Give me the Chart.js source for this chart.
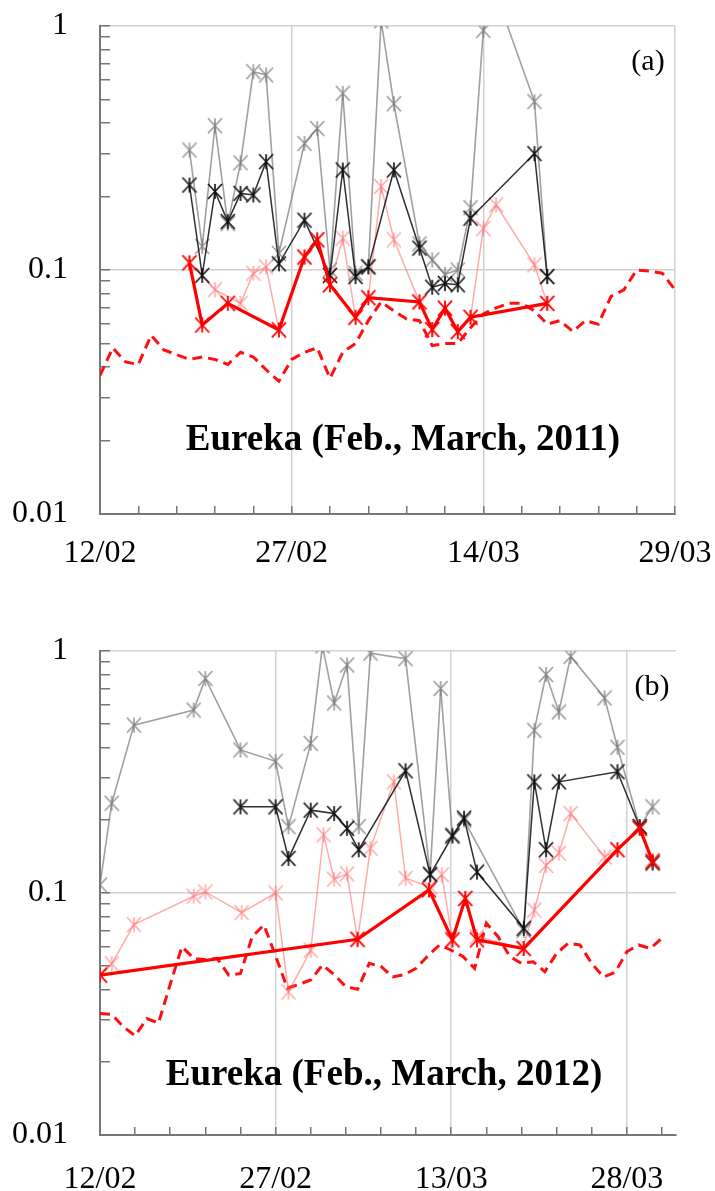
<!DOCTYPE html>
<html><head><meta charset="utf-8">
<script src="https://cdn.jsdelivr.net/npm/chart.js@4.4.0/dist/chart.umd.min.js"></script>
<style>
html,body{margin:0;padding:0;background:#fff;width:715px;height:1191px;overflow:hidden;}
#wrapA{position:absolute;left:0;top:0;width:715px;height:590px;}
#wrapB{position:absolute;left:0;top:590px;width:715px;height:601px;}
canvas{display:block;}
.title{position:absolute;font-family:"Liberation Serif",serif;font-weight:bold;font-size:37px;white-space:nowrap;transform:translate(-50%,-50%);color:#000;line-height:1;}
.panel{position:absolute;font-family:"Liberation Serif",serif;font-size:30px;transform:translate(-50%,-50%);color:#000;line-height:1;}
</style></head><body>
<div id="wrapA"><canvas id="chartA" width="715" height="590"></canvas></div>
<div id="wrapB"><canvas id="chartB" width="715" height="601"></canvas></div>
<div class="title" style="left:403px;top:437px">Eureka (Feb., March, 2011)</div>
<div class="panel" style="left:648px;top:60px">(a)</div>
<div class="title" style="left:384px;top:1072px">Eureka (Feb., March, 2012)</div>
<div class="panel" style="left:652px;top:685px">(b)</div>
<script>
// ---- tick labels ----
const xTickLabelsA = ['12/02','27/02','14/03','29/03'];
const xTickLabelsB = ['12/02','27/02','13/03','28/03'];
const majorDays = [0,15,30,45];
const xTickDays = [0,3,6,9,12,15,18,21,24,27,30,33,36,39,42,45,48];
const yTickLabels = ['0.01','0.1','1'];
const yLabelValues = [0.01,0.1,1];
const yTickValues = [0.01,0.02,0.03,0.04,0.05,0.06,0.07,0.08,0.09,0.1,0.2,0.3,0.4,0.5,0.6,0.7,0.8,0.9,1];

// ---- panel (a) 2011 ----
const grayDaysA = [7,8,9,10,11,12,13,14,16,17,18,19,20,21,22,23,25,26,27,28,29,30,31,34,35];
const grayValsA = [0.31,0.125,0.39,0.155,0.275,0.65,0.63,0.117,0.33,0.38,0.10,0.53,0.097,0.103,1.05,0.48,0.128,0.11,0.096,0.10,0.18,0.96,1.35,0.49,0.094];
const blackDaysA = [7,8,9,10,11,12,13,14,16,18,19,20,21,23,25,26,27,28,29,34,35];
const blackValsA = [0.223,0.095,0.21,0.158,0.206,0.203,0.278,0.106,0.16,0.095,0.257,0.094,0.103,0.257,0.123,0.085,0.088,0.087,0.163,0.30,0.094];
const pinkDaysA = [7,9,11,12,13,14,16,17,18,19,20,21,22,23,25,26,27,28,29,30,31,34,35];
const pinkValsA = [0.107,0.083,0.073,0.097,0.103,0.057,0.113,0.133,0.087,0.135,0.064,0.077,0.22,0.133,0.074,0.057,0.07,0.056,0.064,0.148,0.185,0.105,0.073];
const redDaysA = [7,8,10,14,16,17,18,20,21,25,26,27,28,29,35];
const redValsA = [0.107,0.0595,0.073,0.0568,0.113,0.133,0.087,0.064,0.077,0.074,0.057,0.0697,0.0559,0.064,0.073];
const dashDaysA = [0,1,2,3,4,5,6,7,8,9,10,11,12,13,14,15,16,17,18,19,20,21,22,23,24,25,26,27,28,29,30,31,32,33,34,35,36,37,38,39,40,41,42,43,44,45];
const dashValsA = [0.037,0.048,0.042,0.041,0.054,0.047,0.045,0.043,0.044,0.043,0.041,0.046,0.044,0.039,0.035,0.043,0.046,0.048,0.036,0.046,0.050,0.062,0.074,0.068,0.063,0.062,0.049,0.050,0.050,0.058,0.066,0.070,0.073,0.073,0.068,0.060,0.062,0.056,0.062,0.060,0.078,0.083,0.100,0.099,0.097,0.083];

// ---- panel (b) 2012 ----
const grayDaysB = [0,1,2.9,8,9,12,15,16.1,18,19,20,21.1,22.1,23.1,26.1,28.2,29.1,30.1,31.1,36.2,37.1,38.1,39.2,40.2,43.1,44.2,46.1,47.2];
const grayValsB = [0.108,0.235,0.494,0.57,0.77,0.39,0.35,0.188,0.415,1.05,0.61,0.875,0.188,0.98,0.93,0.12,0.70,0.174,0.2,0.07,0.47,0.80,0.56,0.95,0.64,0.40,0.188,0.227];
const blackDaysB = [12,15,16.1,18,20,21.1,22.1,26.1,28.2,30.1,31.1,32.2,36.2,37.1,38.1,39.2,44.2,46.1,47.2];
const blackValsB = [0.227,0.227,0.139,0.22,0.213,0.185,0.151,0.32,0.119,0.172,0.204,0.122,0.0715,0.288,0.151,0.288,0.317,0.188,0.133];
const pinkDaysB = [0,1,2.9,8,9,12.1,15,16.1,18,19.1,20,21.1,22,23.1,25.1,26.1,28.2,29.2,30.1,31.2,32.2,36.1,37.1,38.1,39.2,40.2,43.1,44.2,46.1,47.2];
const pinkValsB = [0.0458,0.051,0.074,0.097,0.101,0.083,0.1,0.039,0.058,0.174,0.114,0.12,0.064,0.153,0.288,0.115,0.106,0.119,0.064,0.095,0.066,0.059,0.085,0.13,0.146,0.213,0.141,0.151,0.185,0.137];
const redDaysB = [0,22,28.1,30.1,31.2,32.2,36.2,44.2,46.1,47.2];
const redValsB = [0.0458,0.0644,0.103,0.064,0.095,0.064,0.059,0.151,0.185,0.135];
const dashDaysB = [0,1,2,3,4,5,6,7,8,9,10,11,12,13,14,15,16,17,18,19,20,21,22,23,24,25,26,27,28,29,30,31,32,33,34,35,36,37,38,39,40,41,42,43,44,45,46,47,48];
const dashValsB = [0.0318,0.0315,0.028,0.0257,0.0303,0.029,0.042,0.06,0.0537,0.053,0.0537,0.0458,0.0465,0.066,0.0738,0.055,0.0404,0.042,0.0437,0.0504,0.046,0.041,0.040,0.0512,0.0497,0.045,0.046,0.0488,0.055,0.061,0.058,0.0547,0.0488,0.075,0.066,0.0547,0.0512,0.052,0.0473,0.0563,0.062,0.061,0.0512,0.045,0.047,0.0572,0.061,0.059,0.065];

// ---- marker drawing ----
function asterisk(color, w, h, lw) {
  const c = document.createElement('canvas');
  c.width = w + 4; c.height = h + 4;
  const g = c.getContext('2d');
  g.strokeStyle = color; g.lineWidth = lw;
  const cx = c.width / 2, cy = c.height / 2;
  g.beginPath();
  g.moveTo(cx - w/2, cy - h/2); g.lineTo(cx + w/2, cy + h/2);
  g.moveTo(cx + w/2, cy - h/2); g.lineTo(cx - w/2, cy + h/2);
  g.moveTo(cx, cy - h/2); g.lineTo(cx, cy + h/2);
  g.stroke();
  return c;
}
const mGray = asterisk('rgba(120,120,120,0.75)', 14, 15, 1.6);
const mBlack = asterisk('rgba(15,15,15,0.95)', 14, 15, 1.7);
const mPink = asterisk('rgba(255,90,90,0.5)', 14, 15, 1.6);
const mRed = asterisk('rgba(255,0,0,1)', 14, 15, 1.8);

function pts(days, vals) { return days.map((d, i) => ({x: d, y: vals[i]})); }
const near = (a, b) => Math.abs(a - b) < 1e-9 * Math.max(1, Math.abs(b)) + 1e-12;
function zeroPad(sc) { sc.paddingTop = 0; sc.paddingBottom = 0; sc.paddingLeft = 0; sc.paddingRight = 0; }

function makeChart(id, s) {
  const datasets = [
    {data: pts(s.redD, s.redV), borderColor: '#ff0000', borderWidth: 3.2, pointStyle: mRed, pointRadius: 6},
    {data: pts(s.blackD, s.blackV), borderColor: 'rgba(25,25,25,0.9)', borderWidth: 1.5, pointStyle: mBlack, pointRadius: 6},
    {data: pts(s.pinkD, s.pinkV), borderColor: 'rgba(255,90,90,0.5)', borderWidth: 1.5, pointStyle: mPink, pointRadius: 6},
    {data: pts(s.grayD, s.grayV), borderColor: 'rgba(120,120,120,0.7)', borderWidth: 1.6, pointStyle: mGray, pointRadius: 6},
    {data: pts(s.dashD, s.dashV), borderColor: '#ff1010', borderWidth: 3, borderDash: [10, 6], pointRadius: 0}
  ];
  datasets.forEach(d => { d.tension = 0; d.fill = false; d.spanGaps = true; });
  return new Chart(document.getElementById(id), {
    type: 'line',
    data: {datasets},
    options: {
      responsive: false, animation: false, devicePixelRatio: 1, events: [],
      layout: {padding: {top: s.padTop, right: s.padRight, left: 0, bottom: 0}},
      plugins: {legend: {display: false}, tooltip: {enabled: false}, title: {display: false}},
      scales: {
        x: {
          type: 'linear', min: 0, max: s.xMax,
          afterBuildTicks: sc => { sc.ticks = xTickDays.filter(v => v <= s.xMax).map(v => ({value: v})); },
          afterFit: sc => { sc.height = s.xAxisH; zeroPad(sc); },
          ticks: {
            autoSkip: false, maxRotation: 0, minRotation: 0, padding: s.xPad, color: '#000',
            font: {family: 'Liberation Serif', size: 32},
            callback: v => { const i = majorDays.indexOf(v); return i >= 0 ? s.xLabels[i] : ''; }
          },
          grid: {
            color: c => (c.tick && majorDays.includes(c.tick.value)) ? '#d2d2d2' : 'rgba(0,0,0,0)',
            lineWidth: 1.5, tickLength: -8, tickColor: '#777', tickWidth: 1.5, drawTicks: true
          },
          border: {display: true, color: '#777', width: 2}
        },
        y: {
          type: 'logarithmic', min: 0.01, max: 1,
          afterBuildTicks: sc => { sc.ticks = yTickValues.map(v => ({value: v})); },
          afterFit: sc => { sc.width = 100; zeroPad(sc); },
          ticks: {
            autoSkip: false, padding: 42, color: '#000',
            font: {family: 'Liberation Serif', size: 32},
            callback: v => { const i = yLabelValues.findIndex(t => near(t, v)); return i >= 0 ? yTickLabels[i] : ''; }
          },
          grid: {
            color: c => (c.tick && (near(c.tick.value, 0.1) || near(c.tick.value, 1))) ? '#d2d2d2' : 'rgba(0,0,0,0)',
            lineWidth: 1.5, tickLength: -10, tickColor: '#777', tickWidth: 1.5, drawTicks: true
          },
          border: {display: true, color: '#777', width: 2}
        }
      }
    }
  });
}

makeChart('chartA', {
  xMax: 45, padTop: 26, padRight: 40, xAxisH: 76, xPad: 28, xLabels: xTickLabelsA,
  grayD: grayDaysA, grayV: grayValsA, blackD: blackDaysA, blackV: blackValsA,
  pinkD: pinkDaysA, pinkV: pinkValsA, redD: redDaysA, redV: redValsA,
  dashD: dashDaysA, dashV: dashValsA
});
makeChart('chartB', {
  xMax: 49.2, padTop: 61, padRight: 39, xAxisH: 56, xPad: 33, xLabels: xTickLabelsB,
  grayD: grayDaysB, grayV: grayValsB, blackD: blackDaysB, blackV: blackValsB,
  pinkD: pinkDaysB, pinkV: pinkValsB, redD: redDaysB, redV: redValsB,
  dashD: dashDaysB, dashV: dashValsB
});
</script>
</body></html>
